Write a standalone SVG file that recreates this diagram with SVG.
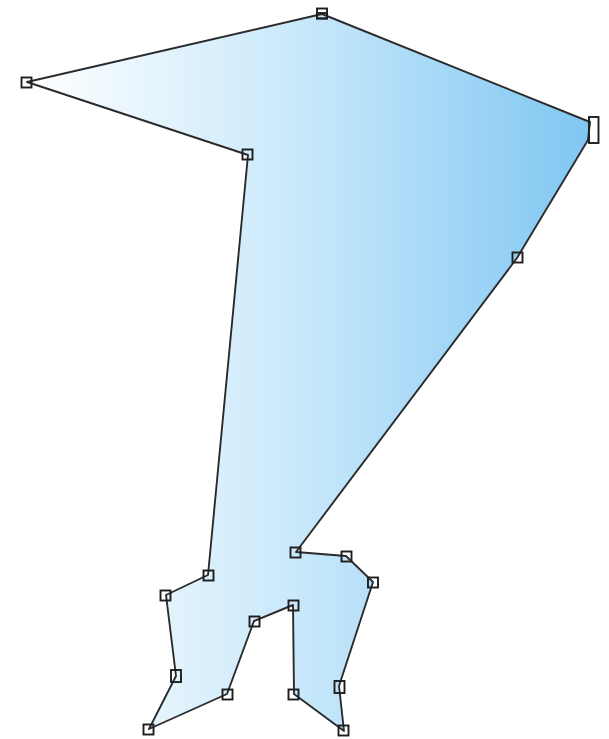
<svg xmlns="http://www.w3.org/2000/svg" width="609" height="739" viewBox="0 0 609 739">
<style>
.shape{stroke:#2b2b2b;stroke-width:1.9;stroke-linejoin:round}
.m{fill:none;stroke:#1e1e1e;stroke-width:1.9}
</style>
<defs>
<linearGradient id="g" gradientUnits="userSpaceOnUse" x1="27" y1="0" x2="595" y2="0">
<stop offset="0" stop-color="#ffffff"/>
<stop offset="0.5" stop-color="#c6e7fa"/>
<stop offset="1" stop-color="#7ec6f2"/>
</linearGradient>
</defs>
<rect width="609" height="739" fill="#ffffff"/>
<g id="polygon">
<polygon class="shape" fill="url(#g)" points="322,14 590,122 588,140 517,258 296,552 346,556 373,582 339,686 344,731 294,694 293,605 254,621 227,694 149,729 176,676 166,595 208,575 248,155 27,82"/>
</g>
<g id="markers">
<rect class="m" x="317" y="8.5" width="10" height="10"/>
<rect class="m" x="317" y="13" width="10" height="5.5"/>
<rect class="m" x="589" y="117" width="9.5" height="26"/>
<rect class="m" x="512.5" y="252.5" width="10" height="10"/>
<rect class="m" x="290.5" y="547.5" width="10" height="10"/>
<rect class="m" x="341.5" y="551.5" width="10" height="10"/>
<rect class="m" x="368" y="577.5" width="10" height="10"/>
<rect class="m" x="334.5" y="681" width="10" height="12"/>
<rect class="m" x="338.5" y="725.5" width="10" height="10"/>
<rect class="m" x="288.5" y="689.5" width="10" height="10"/>
<rect class="m" x="288.5" y="600.5" width="10" height="10"/>
<rect class="m" x="249.5" y="616.5" width="10" height="10"/>
<rect class="m" x="222.5" y="689.5" width="10" height="10"/>
<rect class="m" x="143.5" y="724.5" width="10" height="10"/>
<rect class="m" x="171" y="670" width="10" height="12"/>
<rect class="m" x="160.5" y="590.5" width="10" height="10"/>
<rect class="m" x="203.5" y="570.5" width="10" height="10"/>
<rect class="m" x="242.5" y="149.5" width="10" height="10"/>
<rect class="m" x="21.5" y="77.5" width="10" height="10"/>
</g>
</svg>
